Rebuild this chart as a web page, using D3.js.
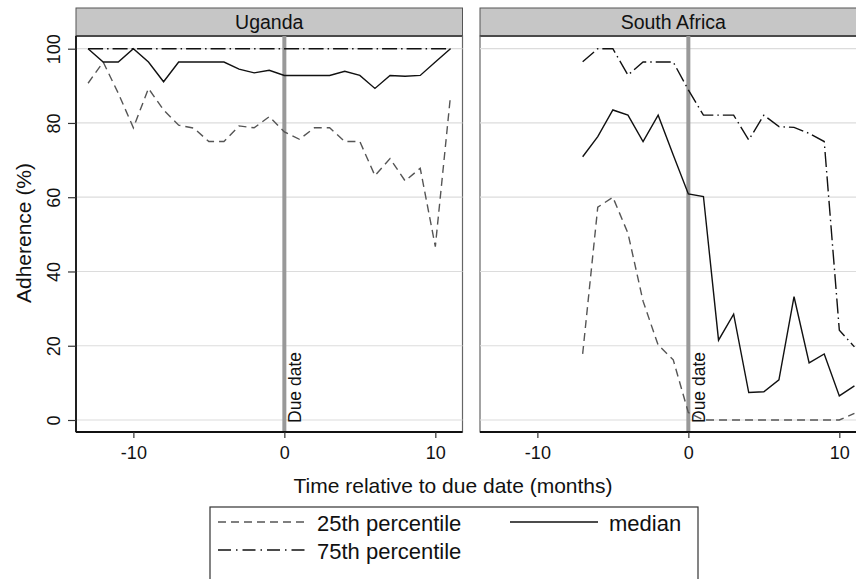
<!DOCTYPE html>
<meta charset="utf-8">
<script src="https://d3js.org/d3.v7.min.js"></script>
<style>
  body { margin: 0; background: #fff; }
  text { font-family: "Liberation Sans", Arial, sans-serif; fill: #111; }
</style>
<div id="chart"></div>
<script>

// data
var ugMonths = d3.range(-13, 12);
var ugP25 = [90.7, 96.4, 88, 78.7, 89.3, 83.5, 79.4, 78.6, 75, 75, 79.2, 78.7, 81.7,
             77.6, 75.6, 78.7, 78.7, 75, 75, 65.8, 70.4, 64.4, 67.8, 46.7, 87.1];
var ugMedian = [100, 96.4, 96.4, 100, 96.4, 91.1, 96.4, 96.4, 96.4, 96.4, 94.5, 93.5, 94.2,
                92.8, 92.8, 92.8, 92.8, 93.9, 92.8, 89.3, 92.8, 92.6, 92.8, 96.4, 100];
var ugP75 = [100, 100, 100, 100, 100, 100, 100, 100, 100, 100, 100, 100, 100,
             100, 100, 100, 100, 100, 100, 100, 100, 100, 100, 100, 100];

var saMonths = d3.range(-7, 12);
var saP25 = [17.8, 57.3, 60, 50.3, 32, 20.2, 16.2, 2,
             0, 0, 0, 0, 0, 0, 0, 0, 0, 0, 1.8];
var saMedian = [70.9, 76.3, 83.5, 82.1, 75, 82.1, 71.4, 60.9,
                60.2, 21.5, 28.5, 7.4, 7.6, 10.8, 33.2, 15.4, 17.8, 6.5, 9.2];
var saP75 = [96.5, 100, 100, 92.9, 96.4, 96.4, 96.4, 88.9,
             82.1, 82.1, 82.1, 75.4, 82.1, 79, 78.8, 77.2, 75, 24.2, 19.7];

var panelNames = ["Uganda", "South Africa"];
var yTicks = [0, 20, 40, 60, 80, 100];
var xTicks = [-10, 0, 10];
var seriesNames = ["25th percentile", "median", "75th percentile"];

var panels = [
  {name: panelNames[0], months: ugMonths, series: [ugP25, ugMedian, ugP75]},
  {name: panelNames[1], months: saMonths, series: [saP25, saMedian, saP75]}
];

var styles = [
  {stroke: "#555", dash: "8,5", width: 1.4},
  {stroke: "#111", dash: null, width: 1.4},
  {stroke: "#111", dash: "15,4,1.5,4", width: 1.4}
];

var W = 856, H = 579;
var plotTop = 36, plotBottom = 432, pw = 386.5;
var lefts = [76, 480];

var svg = d3.select("#chart").append("svg")
    .attr("width", W).attr("height", H);

var y = d3.scaleLinear().domain([0, 100]).range([420, 48.7]);

panels.forEach(function(p, pi) {
  var x0 = lefts[pi];
  var x = d3.scaleLinear().domain([-13.8, 11.8]).range([x0, x0 + pw]);
  var g = svg.append("g");

  // header strip
  g.append("rect")
    .attr("x", x0).attr("y", 8).attr("width", pw).attr("height", plotTop - 8)
    .attr("fill", "#c6c6c6").attr("stroke", "#555").attr("stroke-width", 1);
  g.append("line")
    .attr("x1", x0).attr("x2", x0 + pw).attr("y1", plotTop).attr("y2", plotTop)
    .attr("stroke", "#222").attr("stroke-width", 2);
  g.append("text")
    .attr("x", x0 + pw / 2).attr("y", 29)
    .attr("text-anchor", "middle").style("font-size", "19.5px")
    .text(p.name);

  // panel border
  g.append("rect")
    .attr("x", x0).attr("y", plotTop).attr("width", pw).attr("height", plotBottom - plotTop)
    .attr("fill", "none").attr("stroke", "#666").attr("stroke-width", 1.2);

  // grid
  g.selectAll(".grid").data(yTicks).enter().append("line")
    .attr("x1", x0).attr("x2", x0 + pw)
    .attr("y1", function(d) { return y(d); }).attr("y2", function(d) { return y(d); })
    .attr("stroke", "#dcdcdc").attr("stroke-width", 1.2);

  // due date line
  g.append("line")
    .attr("x1", x(0)).attr("x2", x(0)).attr("y1", plotTop).attr("y2", plotBottom)
    .attr("stroke", "#999").attr("stroke-width", 4);
  g.append("text")
    .attr("transform", "translate(" + (x(0) + 16.5) + ",423) rotate(-90)")
    .style("font-size", "17.5px")
    .text("Due date");

  // lines
  var clipId = "clip" + pi;
  svg.append("clipPath").attr("id", clipId).append("rect")
    .attr("x", x0).attr("y", plotTop).attr("width", pw).attr("height", plotBottom - plotTop);
  p.series.forEach(function(vals, si) {
    var line = d3.line()
      .x(function(d, i) { return x(p.months[i]); })
      .y(function(d) { return y(d); });
    g.append("path")
      .datum(vals)
      .attr("clip-path", "url(#" + clipId + ")")
      .attr("d", line)
      .attr("fill", "none")
      .attr("stroke", styles[si].stroke)
      .attr("stroke-width", styles[si].width)
      .attr("stroke-dasharray", styles[si].dash);
  });

  // x axis
  var xAxis = d3.axisBottom(x).tickValues(xTicks).tickSize(6).tickPadding(8)
    .tickFormat(d3.format("d"));
  var xa = g.append("g").attr("transform", "translate(0," + plotBottom + ")").call(xAxis);
  xa.select(".domain").attr("stroke", "#111").attr("stroke-width", 1.8)
    .attr("d", "M" + x0 + ",0H" + (x0 + pw));
  xa.selectAll(".tick line").attr("stroke", "#333").attr("stroke-width", 1.2);
  xa.selectAll(".tick text").style("font-size", "18px")
    .style("font-family", "Liberation Sans, Arial, sans-serif").attr("fill", "#111")
    .text(function(d) { return d < 0 ? "-" + Math.abs(d) : d; });

  if (pi === 0) {
    var yAxis = d3.axisLeft(y).tickValues(yTicks).tickSize(8).tickFormat(d3.format("d"));
    var ya = g.append("g").attr("transform", "translate(" + x0 + ",0)").call(yAxis);
    ya.select(".domain").attr("stroke", "#111").attr("stroke-width", 1.8)
      .attr("d", "M0," + plotTop + "V" + plotBottom);
    ya.selectAll(".tick line").attr("stroke", "#333").attr("stroke-width", 1.2);
    ya.selectAll(".tick text").remove();
    ya.selectAll(".tick").append("text")
      .attr("transform", "translate(-16.5,0) rotate(-90)")
      .attr("text-anchor", "middle")
      .style("font-size", "18px")
      .attr("fill", "#111")
      .text(function(d) { return d; });
  }
});

// axis titles
svg.append("text")
  .attr("transform", "translate(31,233) rotate(-90)")
  .attr("text-anchor", "middle").style("font-size", "21px")
  .text("Adherence (%)");
svg.append("text")
  .attr("x", 453).attr("y", 493)
  .attr("text-anchor", "middle").style("font-size", "21px")
  .text("Time relative to due date (months)");

// legend
svg.append("rect")
  .attr("x", 210).attr("y", 507).attr("width", 488).attr("height", 90)
  .attr("fill", "#fff").attr("stroke", "#333").attr("stroke-width", 1.2);

var legendPos = [{x: 218, y: 531}, {x: 510, y: 531}, {x: 218, y: 559}];
var legendDash = ["8,5", null, "13,5,1.5,5"];
seriesNames.forEach(function(name, i) {
  var lp = legendPos[i];
  svg.append("line")
    .attr("x1", lp.x).attr("x2", lp.x + 88).attr("y1", lp.y - 9).attr("y2", lp.y - 9)
    .attr("stroke", styles[i].stroke).attr("stroke-width", styles[i].width)
    .attr("stroke-dasharray", legendDash[i]);
  svg.append("text")
    .attr("x", lp.x + 99).attr("y", lp.y)
    .style("font-size", "22px")
    .text(name);
});

</script>
